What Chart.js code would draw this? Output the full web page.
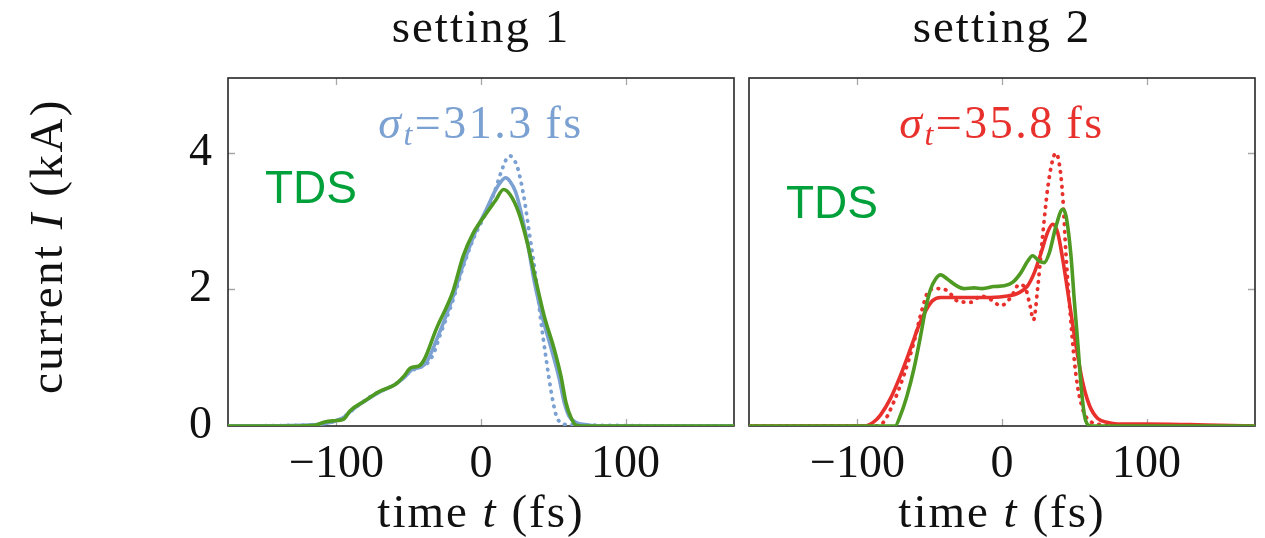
<!DOCTYPE html>
<html>
<head>
<meta charset="utf-8">
<script src="https://cdn.jsdelivr.net/npm/chart.js@4.4.1/dist/chart.umd.min.js"></script>
<style>
  html, body { margin: 0; padding: 0; background: #fff; }
  #wrap { position: relative; width: 1265px; height: 538px; }
  #wrap canvas { position: absolute; left: 0; top: 0; }
</style>
</head>
<body>
<div id="wrap">
  <canvas id="c1" width="1265" height="538"></canvas>
  <canvas id="c2" width="1265" height="538"></canvas>
</div>
<script>
// ticks
const xTicks = [-100, 0, 100];
const xTickLabels = ['\u2212100', '0', '100'];
const yTicks = [0, 2, 4];
const yTickLabels = ['0', '2', '4'];

// panel texts
const panelTitles = ['setting 1', 'setting 2'];
const sigmaValues = ['31.3', '35.8'];

// setting 1 : TDS measurement (green)
const s1TdsT = [-175, -130, -115, -108, -100, -95, -90.7, -80.2, -70.8, -59.1, -53.3, -48.6, -42.8, -39.3, -31.1, -19.4, -12.4, -5.4, 4.0, 9.8, 15.6, 20.3, 26.1, 32.0, 37.8, 43.7, 50.7, 55.3, 58.8, 62.3, 65.8, 70, 175];
const s1TdsI = [0, 0, 0.01, 0.06, 0.08, 0.1, 0.22, 0.37, 0.50, 0.61, 0.73, 0.85, 0.88, 0.97, 1.41, 1.97, 2.48, 2.82, 3.12, 3.29, 3.46, 3.38, 3.12, 2.68, 2.14, 1.61, 1.12, 0.73, 0.34, 0.12, 0.01, 0, 0];
// setting 1 : reconstruction (blue solid)
const s1SolT = [-175, -125, -110, -100, -94, -90, -80, -70, -60, -53, -48, -42, -38, -30, -20, -12, -5, 4, 10, 14, 17, 20, 24, 28, 32, 37, 43, 49, 54, 57.5, 61, 66, 72, 80, 175];
const s1SolI = [0, 0.01, 0.03, 0.08, 0.14, 0.22, 0.37, 0.5, 0.6, 0.71, 0.82, 0.86, 0.92, 1.3, 1.85, 2.38, 2.78, 3.18, 3.45, 3.58, 3.63, 3.58, 3.42, 3.1, 2.7, 2.1, 1.55, 1.1, 0.7, 0.35, 0.14, 0.05, 0.02, 0, 0];
// setting 1 : reconstruction (blue dotted)
const s1DotT = [-175, -115, -105, -97, -92, -85, -75, -65, -58, -50, -44, -38, -33, -28, -20, -12, -5, 3, 9, 14, 18, 20.3, 22.5, 25, 29.6, 33.1, 37.8, 41.3, 44.8, 49.5, 53, 60, 175];
const s1DotI = [0, 0.02, 0.05, 0.1, 0.18, 0.3, 0.45, 0.55, 0.63, 0.78, 0.85, 0.9, 1.05, 1.35, 1.8, 2.35, 2.75, 3.1, 3.4, 3.72, 3.92, 3.95, 3.9, 3.8, 3.36, 2.87, 2.19, 1.56, 1.02, 0.39, 0.10, 0.02, 0];

// setting 2 : TDS measurement (green)
const s2TdsT = [-175, -74, -70.2, -65.6, -61.0, -56.3, -52.9, -49.4, -45.9, -42.5, -37.8, -32.1, -26.3, -19.3, -13.6, -5.5, 1.5, 7.3, 13.0, 17.7, 21.1, 25.8, 29.2, 32.7, 37.3, 42.0, 44.3, 47.7, 50.1, 52.4, 54.7, 57.0, 59.3, 62, 175];
const s2TdsI = [0, 0, 0.16, 0.45, 0.83, 1.32, 1.71, 2.0, 2.15, 2.21, 2.15, 2.06, 2.01, 2.02, 2.01, 2.04, 2.05, 2.10, 2.24, 2.41, 2.49, 2.41, 2.39, 2.53, 2.92, 3.17, 3.07, 2.49, 1.81, 1.22, 0.59, 0.16, 0.02, 0, 0];
// setting 2 : reconstruction (red solid)
const s2SolT = [-175, -95, -88.7, -84.1, -77.2, -70.2, -63.3, -57.5, -52.9, -48.2, -42.5, -30.9, -19.3, -7.8, 3.8, 11.9, 17.7, 22.3, 27.0, 31.5, 35.0, 38.5, 42.0, 46.6, 51.2, 55.8, 60.5, 66.2, 73.2, 80, 100, 130, 150, 175];
const s2SolI = [0, 0, 0.06, 0.16, 0.40, 0.74, 1.13, 1.47, 1.68, 1.83, 1.88, 1.88, 1.88, 1.88, 1.90, 1.95, 2.05, 2.24, 2.53, 2.83, 2.95, 2.83, 2.44, 1.81, 1.17, 0.64, 0.30, 0.11, 0.05, 0.03, 0.03, 0.02, 0.01, 0];
// setting 2 : reconstruction (red dotted)
const s2DotT = [-175, -88, -81.8, -74.9, -67.9, -61.0, -55.2, -50.6, -44.8, -37.8, -30.9, -21.6, -14.7, -7.8, -0.8, 6.1, 11.9, 16.5, 19.5, 21.8, 24.6, 28.1, 31.5, 35.0, 37.3, 39.6, 42.0, 44.3, 47.7, 51.2, 55.8, 61.6, 68.6, 75, 175];
const s2DotI = [0, 0, 0.06, 0.35, 0.74, 1.22, 1.71, 1.98, 2.01, 1.98, 1.83, 1.81, 1.90, 1.85, 1.76, 1.88, 2.07, 2.00, 1.75, 1.55, 2.0, 2.78, 3.46, 3.89, 3.99, 3.84, 3.36, 2.49, 1.51, 0.74, 0.25, 0.06, 0.02, 0, 0];

const SERIF = '"Liberation Serif", "DejaVu Serif", serif';
const rm = s => s + 'px ' + SERIF;
const it = s => 'italic ' + s + 'px ' + SERIF;

const GREEN = '#4f9a22';
const GREEN_TXT = '#00a03a';
const BLUE = '#7ba1d2';
const RED = '#e8302c';

function pts(ts, vs) {
  return ts.map((t, i) => ({ x: t, y: vs[i] }));
}

// text with mixed upright / italic parts
function drawRich(ctx, parts, x, y, align, color, rot, spacing) {
  ctx.save();
  ctx.translate(x, y);
  if (rot) ctx.rotate(rot);
  ctx.letterSpacing = (spacing || 0) + 'px';
  let w = 0;
  parts.forEach(p => { ctx.font = p.font; w += ctx.measureText(p.text).width; });
  let cx = align === 'center' ? -w / 2 : 0;
  ctx.fillStyle = color;
  ctx.textBaseline = 'alphabetic';
  ctx.textAlign = 'left';
  parts.forEach(p => {
    ctx.font = p.font;
    ctx.fillText(p.text, cx, p.dy || 0);
    cx += ctx.measureText(p.text).width;
  });
  ctx.restore();
}

const panelDeco = {
  id: 'panelDeco',
  beforeDatasetsDraw(chart, args, opts) {
    const { ctx, chartArea: a } = chart;
    const xs = chart.scales.x, ys = chart.scales.y;
    ctx.save();
    // inner tick marks
    ctx.strokeStyle = '#a8a8a8';
    ctx.lineWidth = 1.3;
    ctx.beginPath();
    xTicks.forEach(v => {
      const px = Math.round(xs.getPixelForValue(v)) + 0.5;
      ctx.moveTo(px, a.bottom); ctx.lineTo(px, a.bottom - 7);
      ctx.moveTo(px, a.top); ctx.lineTo(px, a.top + 7);
    });
    yTicks.slice(1).forEach(v => {
      const py = Math.round(ys.getPixelForValue(v)) + 0.5;
      if (opts.ySide === 'left') { ctx.moveTo(a.left, py); ctx.lineTo(a.left + 7, py); }
      else { ctx.moveTo(a.right, py); ctx.lineTo(a.right - 7, py); }
    });
    ctx.stroke();
    // frame
    ctx.strokeStyle = '#262626';
    ctx.lineWidth = 1.6;
    ctx.strokeRect(a.left, a.top, a.right - a.left, a.bottom - a.top);
    ctx.restore();
  },
  afterDraw(chart, args, opts) {
    const { ctx, chartArea: a } = chart;
    const cx = (a.left + a.right) / 2;
    drawRich(ctx, [{ text: opts.title, font: rm(47) }], cx, 42, 'center', '#111', 0, 2);
    drawRich(ctx, [
      { text: 'time ', font: rm(47) },
      { text: 't', font: it(47) },
      { text: ' (fs)', font: rm(47) }
    ], cx, 527, 'center', '#111', 0, 2);
    drawRich(ctx, [
      { text: '\u03c3', font: it(46) },
      { text: 't', font: it(32), dy: 7 },
      { text: '=', font: rm(46) },
      { text: opts.sigma, font: rm(46) },
      { text: '\u2009fs', font: rm(46) }
    ], cx, 138, 'center', opts.sigmaColor, 0, 2.5);
    drawRich(ctx, [{ text: 'TDS', font: '46px "Liberation Sans", Arial, sans-serif' }],
      a.left + 37, opts.tdsY, 'left', GREEN_TXT);
    if (opts.yTitle) {
      drawRich(ctx, [
        { text: 'current ', font: rm(47) },
        { text: 'I', font: it(47) },
        { text: ' (kA)', font: rm(47) }
      ], 62, 246, 'center', '#111', -Math.PI / 2, 2.5);
    }
  }
};

function makeChart(id, datasets, pad, deco, showY) {
  return new Chart(document.getElementById(id), {
    type: 'line',
    data: { datasets },
    plugins: [panelDeco],
    options: {
      responsive: false,
      animation: false,
      layout: { padding: pad },
      elements: { point: { radius: 0 }, line: { cubicInterpolationMode: 'monotone' } },
      plugins: { legend: { display: false }, tooltip: { enabled: false }, panelDeco: deco },
      scales: {
        x: {
          type: 'linear', min: -175, max: 175,
          afterBuildTicks: s => { s.ticks = xTicks.map(v => ({ value: v })); },
          afterFit: s => { s.height = 112; },
          grid: { display: false, drawTicks: false },
          border: { display: false },
          ticks: {
            padding: 11, maxRotation: 0, autoSkip: false, color: '#111',
            font: { family: SERIF, size: 46 },
            callback: v => xTickLabels[xTicks.indexOf(v)]
          }
        },
        y: {
          type: 'linear', min: 0, max: 5.09, display: showY,
          afterBuildTicks: s => { s.ticks = yTicks.map(v => ({ value: v })); },
          afterFit: s => { s.width = showY ? 228 : 0; },
          grid: { display: false, drawTicks: false },
          border: { display: false },
          ticks: {
            padding: 16, color: '#111',
            font: { family: SERIF, size: 46 },
            callback: v => yTickLabels[yTicks.indexOf(v)]
          }
        }
      }
    }
  });
}

const dotted = { borderDash: [0.5, 7], borderCapStyle: 'round' };

makeChart('c1', [
  { data: pts(s1TdsT, s1TdsI), borderColor: GREEN, borderWidth: 3.6, order: 0 },
  { data: pts(s1SolT, s1SolI), borderColor: BLUE, borderWidth: 3.6, order: 1 },
  Object.assign({ data: pts(s1DotT, s1DotI), borderColor: BLUE, borderWidth: 3.8, order: 2 }, dotted)
], { top: 78, left: 0, right: 531, bottom: 0 },
  { title: panelTitles[0], sigma: sigmaValues[0], sigmaColor: BLUE, tdsY: 203, ySide: 'left', yTitle: true }, true);

makeChart('c2', [
  { data: pts(s2TdsT, s2TdsI), borderColor: GREEN, borderWidth: 3.6, order: 0 },
  { data: pts(s2SolT, s2SolI), borderColor: RED, borderWidth: 3.6, order: 1 },
  Object.assign({ data: pts(s2DotT, s2DotI), borderColor: RED, borderWidth: 3.8, order: 2 }, dotted)
], { top: 78, left: 749, right: 10, bottom: 0 },
  { title: panelTitles[1], sigma: sigmaValues[1], sigmaColor: RED, tdsY: 218, ySide: 'right', yTitle: false }, false);
</script>
</body>
</html>
